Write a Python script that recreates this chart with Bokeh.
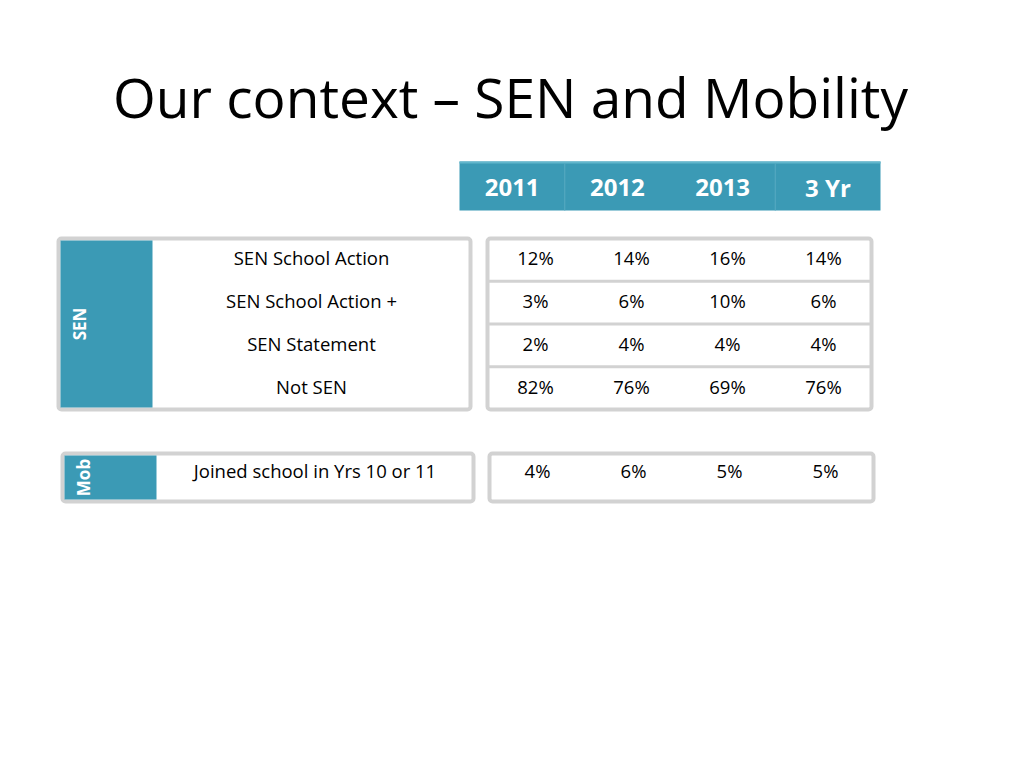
import math
from bokeh.plotting import figure
from bokeh.models import Range1d
from bokeh.core.properties import value
from bokeh.embed import file_html
from bokeh.resources import INLINE

# ---------------- data ----------------
title_text = "Our context \u2013 SEN and Mobility"
years = ["2011", "2012", "2013", "3 Yr"]
sen_labels = ["SEN School Action", "SEN School Action +", "SEN Statement", "Not SEN"]
sen_2011 = [12, 3, 2, 82]
sen_2012 = [14, 6, 4, 76]
sen_2013 = [16, 10, 4, 69]
sen_3yr = [14, 6, 4, 76]
mob_labels = ["Joined school in Yrs 10 or 11"]
mob_values = [4, 6, 5, 5]
group_labels = ["SEN", "Mob"]

# ---------------- style / layout ----------------
BLUE = "#3b9ab5"
GRAY = "#d2d2d2"
FONT = "Open Sans"

p = figure(width=1008, height=752, output_backend="svg", toolbar_location=None,
           x_range=Range1d(1, 1009), y_range=Range1d(753, 1),
           min_border=0, outline_line_color=None, background_fill_color="white",
           border_fill_color="white")
p.axis.visible = False
p.grid.visible = False

# title
p.text(x=[511], y=[97], text=[title_text], text_align="center", text_baseline="middle",
       text_font=value(FONT), text_font_size="55px", text_color="#000000")

# header band
hx0, hx1, hy0, hy1 = 460, 881, 162, 211
hw = (hx1 - hx0) / len(years)
p.quad(left=[hx0], right=[hx1], top=[hy0], bottom=[hy1], fill_color=BLUE, line_color=None)
p.segment(x0=[hx0], x1=[hx1], y0=[hy0 + 1], y1=[hy0 + 1], line_color="#62b6cc", line_width=2)
sep_x = [hx0 + hw * i for i in (1, 3)]
p.segment(x0=sep_x, x1=sep_x, y0=[hy0 + 2] * 2, y1=[hy1] * 2, line_color="#58aac2", line_width=1)
p.text(x=[hx0 + hw * (i + 0.5) for i in range(len(years))], y=[(hy0 + hy1) / 2 + 1] * len(years),
       text=years, text_align="center", text_baseline="middle",
       text_font=value(FONT), text_font_style="bold", text_font_size="24px", text_color="white")

def group_block(lx0, lx1, vx0, vx1, y0, y1, nrows, labels, cols, glabel, text_dy, row_lines):
    # left label box
    p.quad(left=[lx0], right=[lx1], top=[y0], bottom=[y1], fill_color="white",
           line_color=GRAY, line_width=4, border_radius=3)
    p.quad(left=[lx0 + 2], right=[lx0 + 94], top=[y0 + 2], bottom=[y1 - 2],
           fill_color=BLUE, line_color=None)
    p.text(x=[lx0 + 21], y=[(y0 + y1) / 2], text=[glabel], angle=math.pi / 2,
           text_align="center", text_baseline="middle", text_font=value(FONT),
           text_font_style="bold", text_font_size="17px", text_color="white")
    rh = (y1 - y0) / nrows
    ys = [y0 + rh * (i + 0.5) + text_dy for i in range(nrows)]
    p.text(x=[(lx0 + 94 + lx1) / 2] * nrows, y=ys, text=labels, text_align="center",
           text_baseline="middle", text_font=value(FONT), text_font_size="18.5px",
           text_color="#000000")
    # value box
    p.quad(left=[vx0], right=[vx1], top=[y0], bottom=[y1], fill_color="white",
           line_color=GRAY, line_width=4, border_radius=3)
    if row_lines:
        ly = [y0 + rh * i for i in range(1, nrows)]
        p.segment(x0=[vx0] * len(ly), x1=[vx1] * len(ly), y0=ly, y1=ly,
                  line_color=GRAY, line_width=3)
    cw = (vx1 - vx0) / len(cols)
    xs, yy, tt = [], [], []
    for j, col in enumerate(cols):
        for i, v in enumerate(col):
            xs.append(vx0 + cw * (j + 0.5))
            yy.append(ys[i])
            tt.append(f"{v}%")
    p.text(x=xs, y=yy, text=tt, text_align="center", text_baseline="middle",
           text_font=value(FONT), text_font_size="18.5px", text_color="#000000")

group_block(59, 471, 488, 872, 239, 410, len(sen_labels), sen_labels,
            [sen_2011, sen_2012, sen_2013, sen_3yr], group_labels[0], -2, True)
group_block(63, 474, 490, 874, 454, 502, 1, mob_labels,
            [[v] for v in mob_values], group_labels[1], -7, False)

open("out.html", "w").write(file_html(p, INLINE))
